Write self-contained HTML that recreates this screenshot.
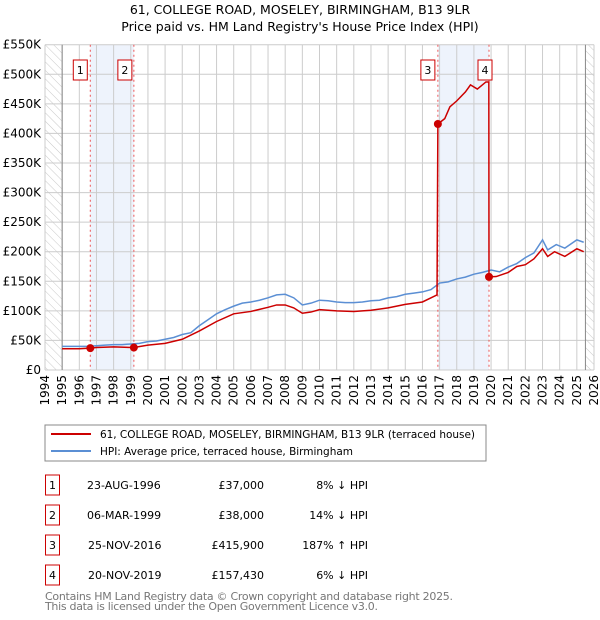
<!DOCTYPE html>
<html><head><meta charset="utf-8"><style>
body{margin:0;background:#fff;font-family:"DejaVu Sans","Liberation Sans",sans-serif;}
#wrap{position:relative;width:600px;height:620px;overflow:hidden;}
</style></head><body>
<div id="wrap">
<svg id="chart" width="600" height="620" xmlns="http://www.w3.org/2000/svg" font-family="DejaVu Sans, Liberation Sans, sans-serif">
<defs><pattern id="hatch" width="6" height="6" patternUnits="userSpaceOnUse" patternTransform="rotate(-45)"><line x1="0" y1="0" x2="0" y2="6" stroke="#bbb" stroke-width="0.8"/></pattern></defs>
<text x="300" y="14" text-anchor="middle" font-size="12.5">61, COLLEGE ROAD, MOSELEY, BIRMINGHAM, B13 9LR</text>
<text x="300" y="31" text-anchor="middle" font-size="12.5">Price paid vs. HM Land Registry's House Price Index (HPI)</text>
<g id="plot"></g>
<g id="legend">
<rect x="45" y="425" width="441" height="36" fill="#fff" stroke="#888"/>
<line x1="51" y1="434" x2="91" y2="434" stroke="#cc0000" stroke-width="2"/>
<text x="100" y="438" font-size="10.5" textLength="375">61, COLLEGE ROAD, MOSELEY, BIRMINGHAM, B13 9LR (terraced house)</text>
<line x1="51" y1="451" x2="91" y2="451" stroke="#5b8fd4" stroke-width="2"/>
<text x="100" y="455" font-size="10.5" textLength="253">HPI: Average price, terraced house, Birmingham</text>
</g>
<g id="table" font-size="11"></g>
<text x="45" y="600" font-size="11" fill="#777" textLength="408">Contains HM Land Registry data © Crown copyright and database right 2025.</text>
<text x="45" y="610" font-size="11" fill="#777" textLength="333">This data is licensed under the Open Government Licence v3.0.</text>
</svg>
</div>
<script>
const hpiYears=[1995,1995.5,1996,1996.5,1997,1997.5,1998,1998.5,1999,1999.5,2000,2000.5,2001,2001.5,2002,2002.5,2003,2003.5,2004,2004.5,2005,2005.5,2006,2006.5,2007,2007.5,2008,2008.5,2009,2009.5,2010,2010.5,2011,2011.5,2012,2012.5,2013,2013.5,2014,2014.5,2015,2015.5,2016,2016.5,2017,2017.5,2018,2018.5,2019,2019.5,2020,2020.5,2021,2021.5,2022,2022.5,2023,2023.3,2023.8,2024.3,2025,2025.4];
const hpiValues=[40,40,40,40,41,42,43,43,44,45,48,49,52,55,60,63,75,85,95,102,108,113,115,118,122,127,128,122,110,113,118,117,115,114,114,115,117,118,122,124,128,130,132,136,147,149,154,157,162,165,169,166,174,180,190,198,220,203,212,206,220,216];
const priceYears=[1995,1996,1996.64,1997,1998,1999.18,2000,2001,2002,2003,2004,2005,2006,2007,2007.5,2008,2008.5,2009,2009.5,2010,2011,2012,2013,2014,2015,2016,2016.85,2016.9,2017.3,2017.6,2018,2018.5,2018.8,2019.2,2019.7,2019.87,2019.88,2020.3,2021,2021.5,2022,2022.5,2023,2023.3,2023.7,2024.3,2025,2025.4];
const priceValues=[36,36,37,38,39,38,42,45,52,66,82,95,99,106,110,110,105,96,98,102,100,99,101,105,111,115,127,415.9,425,445,455,470,482,475,487,487,157.43,158,165,175,178,188,205,192,200,192,205,200];
const saleYears=[1996.64,1999.18,2016.9,2019.88];
const salePrices=[37,38,415.9,157.43];
const saleLabels=["1","2","3","4"];
const saleDates=["23-AUG-1996","06-MAR-1999","25-NOV-2016","20-NOV-2019"];
const salePriceText=["£37,000","£38,000","£415,900","£157,430"];
const saleHpiText=["8% ↓ HPI","14% ↓ HPI","187% ↑ HPI","6% ↓ HPI"];
const yTicks=[0,50,100,150,200,250,300,350,400,450,500,550];
const yTickLabels=["£0","£50K","£100K","£150K","£200K","£250K","£300K","£350K","£400K","£450K","£500K","£550K"];
const xTicks=[1994,1995,1996,1997,1998,1999,2000,2001,2002,2003,2004,2005,2006,2007,2008,2009,2010,2011,2012,2013,2014,2015,2016,2017,2018,2019,2020,2021,2022,2023,2024,2025,2026];

const X0=45,X1=594,Y0=370,Y1=44.7;
const xs=y=>X0+(y-1994)/(2026-1994)*(X1-X0);
const ys=v=>Y0-v/550*(Y0-Y1);
const NS="http://www.w3.org/2000/svg";
const plot=document.getElementById('plot');
function mk(tag,attrs,parent){const e=document.createElementNS(NS,tag);for(const k in attrs)e.setAttribute(k,attrs[k]);(parent||plot).appendChild(e);return e;}

let e;
e=mk('rect',{x:X0,y:Y1,width:X1-X0,height:Y0-Y1,fill:'#fff'});


for(const [a,b] of [[0,1],[2,3]]){
 e=mk('rect',{x:xs(saleYears[a]),y:Y1,width:xs(saleYears[b])-xs(saleYears[a]),height:Y0-Y1,fill:'#eef3fc'});
 
 
}
e=mk('rect',{x:X0,y:Y1,width:xs(1995)-X0,height:Y0-Y1,fill:'url(#hatch)'});


e=mk('rect',{x:xs(2025.5),y:Y1,width:X1-xs(2025.5),height:Y0-Y1,fill:'url(#hatch)'});


yTicks.forEach((v,i)=>{
 e=mk('line',{x1:X0,x2:X1,y1:ys(v),y2:ys(v),stroke:'#ccc','stroke-width':1});
 
 
 e=mk('text',{x:X0-4,y:ys(v)+4,'text-anchor':'end','font-size':12});
 e.textContent=yTickLabels[i];
 
 
});
xTicks.forEach(t=>{
 e=mk('line',{x1:xs(t),x2:xs(t),y1:Y1,y2:Y0,stroke:'#ccc','stroke-width':1});
 
 
 e=mk('text',{x:0,y:0,'text-anchor':'end','font-size':12,transform:`translate(${xs(t)+4},${Y0+5}) rotate(-90)`});
 e.textContent=t;
 
 
});
e=mk('line',{x1:xs(1995),x2:xs(1995),y1:Y1,y2:Y0,stroke:'#888'});


e=mk('line',{x1:xs(2025.5),x2:xs(2025.5),y1:Y1,y2:Y0,stroke:'#888'});


saleYears.forEach(s=>{
 e=mk('line',{x1:xs(s),x2:xs(s),y1:Y1,y2:Y0,stroke:'#e55','stroke-width':1,'stroke-dasharray':'2,3'});
 
 
});
e=mk('polyline',{points:hpiYears.map((t,i)=>xs(t)+','+ys(hpiValues[i])).join(' '),fill:'none',stroke:'#5b8fd4','stroke-width':1.5});


e=mk('polyline',{points:priceYears.map((t,i)=>xs(t)+','+ys(priceValues[i])).join(' '),fill:'none',stroke:'#cc0000','stroke-width':1.5});


saleYears.forEach((s,i)=>{
 e=mk('circle',{cx:xs(s),cy:ys(salePrices[i]),r:4,fill:'#cc0000'});
 
 
 const off=(i==1?9:(i==3?4:10));
 e=mk('rect',{x:xs(s)-off-7,y:60,width:14,height:20,fill:'#fff',stroke:'#cc0000'});
 
 
 e=mk('text',{x:xs(s)-off,y:74,'text-anchor':'middle','font-size':11});
 e.textContent=saleLabels[i];
 
 
});
const tb=document.getElementById('table');
saleLabels.forEach((l,i)=>{
 const cy=485+i*30;
 e=mk('rect',{x:45.5,y:cy-10,width:14,height:20,fill:'#fff',stroke:'#cc0000'},tb);
 
 
 e=mk('text',{x:52.5,y:cy+4,'text-anchor':'middle'},tb);e.textContent=l;
 
 
 e=mk('text',{x:i>=2?88:87,y:cy+4},tb);e.textContent=saleDates[i];
 
 
 e=mk('text',{x:264,y:cy+4,'text-anchor':'end'},tb);e.textContent=salePriceText[i];
 
 
 e=mk('text',{x:368,y:cy+4,'text-anchor':'end'},tb);e.textContent=saleHpiText[i];
 
 
});
</script>
</body></html>
